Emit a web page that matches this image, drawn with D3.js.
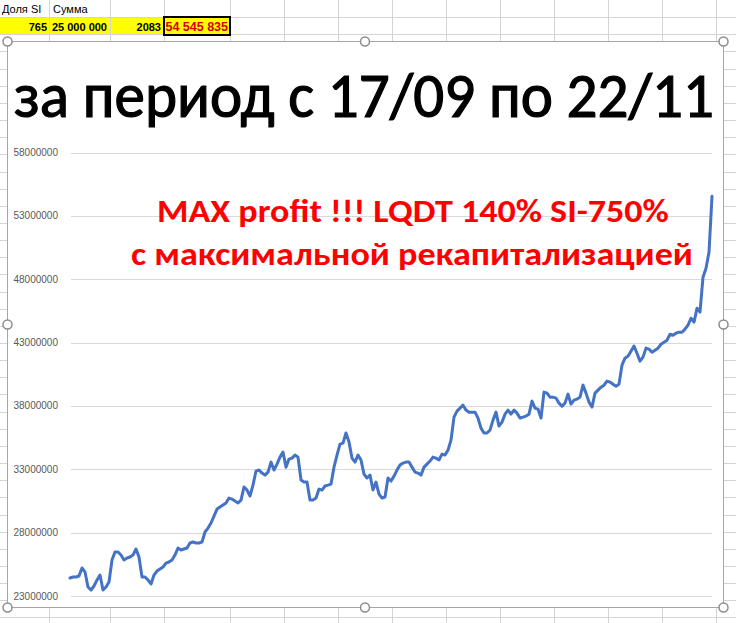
<!DOCTYPE html>
<html>
<head>
<meta charset="utf-8">
<script src="https://cdn.jsdelivr.net/npm/d3@7"></script>
<style>
body { margin: 0; background: #fff; }
svg { display: block; }
</style>
</head>
<body>
<div id="chart_id"></div>
<script>
// equity curve, millions
var equity = [
  24.42, 24.50, 24.50, 24.58, 25.21, 24.89, 23.71, 23.47, 23.79, 24.26,
  24.66, 23.47, 23.71, 24.10, 25.84, 26.47, 26.47, 26.23, 25.84, 26.00,
  26.08, 26.23, 26.71, 26.08, 24.50, 24.50, 24.26, 23.95, 24.66, 24.97,
  25.13, 25.29, 25.60, 25.68, 25.84, 26.23, 26.79, 26.63, 26.71, 26.79,
  27.18, 27.26, 27.18, 27.18, 27.26, 28.05, 28.36, 28.76, 29.31, 29.86,
  30.02, 30.18, 30.34, 30.73, 30.65, 30.49, 30.34, 30.57, 31.60, 31.36,
  30.89, 31.75, 32.86, 32.94, 32.70, 32.54, 32.78, 33.57, 32.94, 33.41,
  33.96, 34.36, 33.17, 33.80, 33.88, 34.12, 33.96, 32.15, 31.99, 31.99,
  30.57, 30.57, 30.73, 31.44, 31.36, 31.68, 31.75, 31.83, 33.17, 34.12,
  34.99, 35.07, 35.86, 35.15, 33.88, 33.57, 34.12, 33.73, 32.62, 32.31,
  32.54, 31.36, 31.99, 31.04, 30.73, 30.81, 32.31, 32.07, 32.46, 32.94,
  33.33, 33.49, 33.57, 33.57, 33.17, 32.78, 32.70, 32.54, 33.17, 33.41,
  33.65, 33.96, 33.88, 33.73, 34.20, 34.12, 34.51, 35.30, 37.12, 37.59,
  37.83, 38.06, 37.67, 37.51, 37.51, 37.51, 37.04, 36.25, 35.86, 35.86,
  36.09, 36.88, 37.51, 36.41, 36.72, 37.35, 37.67, 37.35, 37.67, 37.43,
  37.04, 37.12, 37.20, 37.35, 38.38, 37.83, 37.75, 37.04, 39.09, 39.01,
  38.69, 38.69, 38.62, 38.22, 37.99, 38.22, 38.93, 38.14, 38.46, 38.54,
  38.69, 39.64, 39.01, 38.30, 37.91, 39.01, 39.25, 39.48, 39.64, 39.96,
  39.88, 39.72, 39.56, 39.72, 41.22, 41.77, 41.93, 42.32, 42.72, 42.16,
  41.53, 41.85, 42.56, 42.48, 42.24, 42.40, 42.56, 42.87, 43.03, 43.19,
  43.66, 43.58, 43.74, 43.82, 43.82, 44.06, 44.37, 44.92, 44.61, 45.71,
  45.40, 48.16, 48.87, 50.13, 54.55
];
var yTicks = [23000000, 28000000, 33000000, 38000000, 43000000, 48000000, 53000000, 58000000];

var headerCells = ["Доля SI", "Сумма"];
var rowCells = ["765", "25 000 000", "2083", "54 545 835"];
var titleText = "за период с 17/09 по 22/11";
var noteLines = ["MAX profit !!! LQDT 140% SI-750%", "с максимальной рекапитализацией"];

var width = 736, height = 623;
var svg = d3.select("#chart_id").append("svg").attr("width", width).attr("height", height);

// squeeze a text horizontally so it spans exactly w pixels starting at x0
function fitWidth(sel, x0, w) {
  sel.each(function() {
    var natural = this.getComputedTextLength();
    var sx = w / natural;
    d3.select(this).attr("x", 0)
      .attr("transform", "translate(" + x0 + ",0) scale(" + sx + ",1)");
  });
}

// --- spreadsheet behind the chart ---
var colEdges = [49, 110, 164, 230, 284, 338, 392, 446, 500, 554, 608, 662, 716];
var rowH = 17.15;
var sheet = svg.append("g");

sheet.append("rect").attr("x", 0).attr("y", rowH).attr("width", 230).attr("height", rowH)
  .style("fill", "#ffff00");

sheet.selectAll("line.row").data(d3.range(1, 37)).enter().append("line")
  .attr("x1", 0).attr("x2", width)
  .attr("y1", function(d) { return Math.round(d * rowH) + 0.5; })
  .attr("y2", function(d) { return Math.round(d * rowH) + 0.5; })
  .style("stroke", "#d4d4d4");
sheet.selectAll("line.col").data(colEdges).enter().append("line")
  .attr("x1", function(d) { return d + 0.5; }).attr("x2", function(d) { return d + 0.5; })
  .attr("y1", 0).attr("y2", height)
  .style("stroke", "#d4d4d4");

var cellFont = "'Liberation Sans', Arial, sans-serif";
sheet.selectAll("text.hdr").data(headerCells).enter().append("text")
  .attr("x", function(d, i) { return i == 0 ? 2 : colEdges[0] + 4; })
  .attr("y", 12.5)
  .style("font-family", cellFont).style("font-size", "11px").style("fill", "#000")
  .text(function(d) { return d; });

var rightEdges = [47, 107, 161, 228];
sheet.selectAll("text.val").data(rowCells).enter().append("text")
  .attr("x", function(d, i) { return rightEdges[i]; })
  .attr("y", 30.5)
  .attr("text-anchor", "end")
  .style("font-family", cellFont).style("font-weight", "bold")
  .style("font-size", function(d, i) { return i == 3 ? "12.5px" : "11px"; })
  .style("fill", function(d, i) { return i == 3 ? "#d40000" : "#000"; })
  .text(function(d) { return d; });

sheet.append("rect").attr("x", 164).attr("y", 17).attr("width", 66).attr("height", 18)
  .style("fill", "none").style("stroke", "#000").style("stroke-width", 2);

// --- chart area ---
var box = { left: 7.5, top: 41.5, right: 723.5, bottom: 607.5 };
svg.append("rect")
  .attr("x", box.left).attr("y", box.top)
  .attr("width", box.right - box.left).attr("height", box.bottom - box.top)
  .style("fill", "#fff").style("stroke", "#a6a6a6").style("stroke-width", 1);

var x = d3.scaleLinear().domain([0, equity.length - 1]).range([70, 712]);
var y = d3.scaleLinear().domain([23000000, 58000000]).range([596, 152.5]);

// gridlines + labels
var grid = svg.append("g");
grid.selectAll("line").data(yTicks).enter().append("line")
  .attr("x1", 71).attr("x2", 712)
  .attr("y1", function(d) { return Math.round(y(d)) + 0.5; })
  .attr("y2", function(d) { return Math.round(y(d)) + 0.5; })
  .style("stroke", "#d9d9d9");
grid.selectAll("text").data(yTicks).enter().append("text")
  .attr("x", 58)
  .attr("y", function(d) { return y(d); })
  .attr("dy", "0.35em")
  .attr("text-anchor", "end")
  .style("font-family", cellFont).style("font-size", "10px").style("fill", "#595959")
  .text(function(d) { return d3.format("d")(d); });

// the equity line
var line = d3.line()
  .x(function(d, i) { return x(i); })
  .y(function(d) { return y(d * 1e6); });
svg.append("path").datum(equity)
  .attr("d", line)
  .style("fill", "none")
  .style("stroke", "#4472c4")
  .style("stroke-width", 3)
  .style("stroke-linejoin", "round")
  .style("stroke-linecap", "round");

// title
var bigFont = "Carlito, Lato, 'Open Sans', sans-serif";
svg.append("text")
  .attr("y", 117)
  .style("font-family", bigFont).style("font-size", "64px").style("fill", "#000")
  .style("stroke", "#000").style("stroke-width", 1.2)
  .text(titleText)
  .call(fitWidth, 14, 700);

// red note
var noteX = [157, 131], noteW = [512, 562], noteY = [222, 265];
svg.selectAll("text.note").data(noteLines).enter().append("text")
  .attr("y", function(d, i) { return noteY[i]; })
  .style("font-family", bigFont).style("font-size", "33px").style("font-weight", "bold")
  .style("fill", "#ff0000")
  .text(function(d) { return d; })
  .each(function(d, i) { fitWidth(d3.select(this), noteX[i], noteW[i]); });

// selection handles
var handles = [[box.left, box.top], [365, box.top], [box.right, box.top],
               [box.left, 324.5], [box.right, 324.5],
               [box.left, box.bottom], [365, box.bottom], [box.right, box.bottom]];
svg.selectAll("circle.h").data(handles).enter().append("circle")
  .attr("cx", function(d) { return d[0]; }).attr("cy", function(d) { return d[1]; })
  .attr("r", 4.5)
  .style("fill", "#fff").style("stroke", "#8c8c8c").style("stroke-width", 1.5);
</script>
</body>
</html>
